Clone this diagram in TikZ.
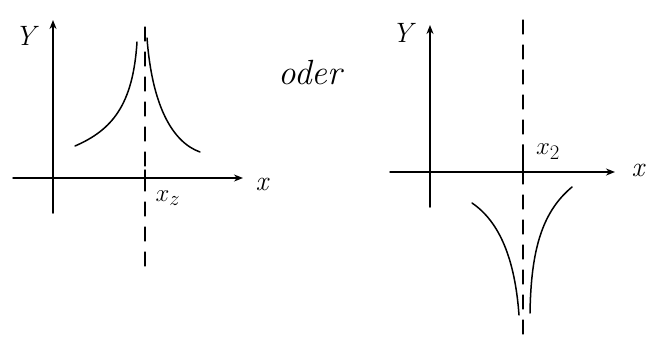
\documentclass[tikz,border=0pt]{standalone}
\usetikzlibrary{arrows.meta}
\begin{document}
\begin{tikzpicture}[x=1pt, y=-1pt, line width=1.5pt, line cap=round,
  >={Stealth[length=9pt, width=7pt]},
  lbl/.style={font=\fontsize{28}{30}\selectfont\itshape},
  asym/.style={line width=1.2pt, dash pattern=on 14pt off 11pt}]

\useasboundingbox (0,0) rectangle (651,338);

% Left graph: axes
\draw[->] (13,178) -- (243,178);
\draw[->] (53,213) -- (53,20);
\node[lbl] (yl) at (25,36) {Y};
\node[lbl] (xl) at (262,184) {x};

% Left graph: asymptote and tick
\draw[asym] (145,27) -- (145,275);
\draw (145,170) -- (145,186);
\node[lbl] (xzl) at (168,198) {$x_z$};

% Left graph: branches
\draw (75,146) .. controls (112,130) and (133,105) .. (137,42);
\draw (147,38) .. controls (152,105) and (172,142) .. (200,152);

% oder
\node[font=\fontsize{35}{38}\selectfont\itshape] (oder) at (310,73) {oder};

% Right graph: axes
\draw[->] (390,172) -- (615,172);
\draw[->] (430,207) -- (430,25);
\node[lbl] (yr) at (402,33) {Y};
\node[lbl] (xr) at (638,170) {x};

% Right graph: asymptote and tick
\draw[asym] (523,20) -- (523,335);
\draw (523,145) -- (523,172);
\node[lbl] (xzr) at (548,152) {$x_2$};

% Right graph: branches
\draw (472,203) .. controls (500,222) and (515,260) .. (519,315);
\draw (530,313) .. controls (531,250) and (542,212) .. (572,187);

\end{tikzpicture}
\end{document}
